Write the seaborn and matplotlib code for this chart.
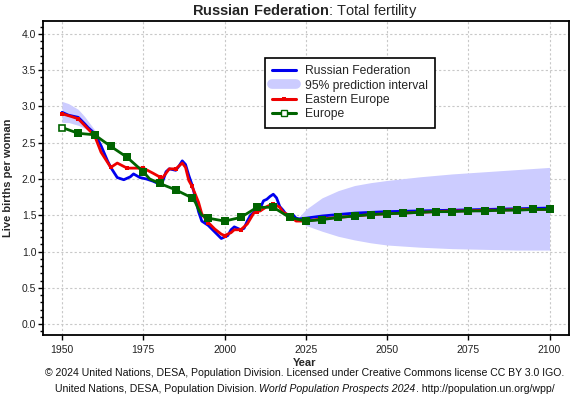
import matplotlib
matplotlib.use("Agg")
import matplotlib.pyplot as plt
from matplotlib.lines import Line2D
from matplotlib.ticker import MultipleLocator, FormatStrFormatter
import pandas as pd
import seaborn as sns

# --- data ---
russia_years = [1950, 1952, 1954, 1955, 1957, 1958, 1960, 1962, 1964, 1965,
                1967, 1969, 1971, 1972, 1974, 1976, 1978, 1980, 1981, 1982,
                1983, 1985, 1986, 1987, 1988, 1989, 1990, 1991, 1992, 1993,
                1995, 1997, 1999, 2000, 2001, 2002, 2003, 2004, 2005, 2006,
                2007, 2008, 2009, 2010, 2011, 2012, 2013, 2014, 2015, 2016,
                2017, 2018, 2019, 2020, 2021, 2022, 2023, 2025, 2030, 2035,
                2040, 2045, 2050, 2060, 2070, 2080, 2090, 2100]
russia_tfr = [2.92, 2.88, 2.86, 2.85, 2.76, 2.71, 2.63, 2.46, 2.25, 2.16,
              2.02, 1.99, 2.03, 2.07, 2.02, 2.00, 1.97, 1.93, 1.97, 2.10,
              2.14, 2.12, 2.18, 2.25, 2.20, 2.05, 1.92, 1.75, 1.55, 1.42,
              1.36, 1.27, 1.18, 1.20, 1.22, 1.30, 1.34, 1.32, 1.30, 1.32,
              1.42, 1.50, 1.54, 1.57, 1.60, 1.70, 1.72, 1.76, 1.79, 1.74,
              1.62, 1.57, 1.51, 1.51, 1.51, 1.46, 1.45, 1.46, 1.49, 1.51,
              1.53, 1.54, 1.55, 1.56, 1.57, 1.58, 1.59, 1.60]

east_years = [1950, 1953, 1955, 1958, 1960, 1962, 1964, 1965, 1967, 1970,
              1972, 1975, 1978, 1980, 1981, 1983, 1985, 1987, 1988, 1989,
              1990, 1992, 1993, 1995, 1997, 1999, 2000, 2002, 2003, 2005,
              2007, 2009, 2010, 2011, 2013, 2015, 2017, 2018, 2020, 2022,
              2025, 2030, 2035, 2040, 2045, 2050, 2055, 2060, 2065, 2070,
              2075, 2080, 2085, 2090, 2095, 2100]
east_tfr = [2.90, 2.86, 2.83, 2.69, 2.60, 2.37, 2.23, 2.16, 2.22, 2.15,
            2.15, 2.15, 2.08, 2.03, 2.02, 2.14, 2.14, 2.22, 2.16, 1.98,
            1.90, 1.68, 1.52, 1.40, 1.31, 1.24, 1.22, 1.26, 1.30, 1.30,
            1.38, 1.53, 1.55, 1.56, 1.62, 1.66, 1.61, 1.54, 1.50, 1.42,
            1.42, 1.45, 1.47, 1.49, 1.51, 1.52, 1.53, 1.54, 1.55, 1.56,
            1.56, 1.57, 1.57, 1.58, 1.58, 1.58]

europe_years = [1950, 1955, 1960, 1965, 1970, 1975, 1977, 1980, 1985, 1990,
                1991, 1992, 1993, 1995, 2000, 2005, 2010, 2015, 2020, 2025,
                2030, 2035, 2040, 2045, 2050, 2055, 2060, 2065, 2070, 2075,
                2080, 2085, 2090, 2095, 2100]
europe_tfr = [2.71, 2.63, 2.61, 2.45, 2.30, 2.10, 2.00, 1.94, 1.85, 1.74,
              1.68, 1.58, 1.50, 1.46, 1.42, 1.47, 1.61, 1.61, 1.47, 1.42,
              1.44, 1.47, 1.49, 1.51, 1.52, 1.53, 1.54, 1.55, 1.55, 1.56,
              1.56, 1.57, 1.57, 1.58, 1.58]

# 95% prediction interval (early estimates + projection)
band_early_years = [1950, 1952, 1955, 1957, 1960, 1962]
band_early_low = [2.78, 2.78, 2.74, 2.70, 2.60, 2.44]
band_early_high = [3.07, 3.04, 2.96, 2.86, 2.68, 2.48]

band_proj_years = [2023, 2025, 2030, 2035, 2040, 2045, 2050, 2060, 2070,
                   2080, 2090, 2100]
band_proj_low = [1.43, 1.36, 1.28, 1.21, 1.16, 1.12, 1.09, 1.06, 1.04,
                 1.03, 1.02, 1.02]
band_proj_high = [1.48, 1.58, 1.74, 1.84, 1.91, 1.95, 1.98, 2.03, 2.07,
                  2.10, 2.13, 2.16]

legend_labels = ["Russian Federation", "95% prediction interval",
                 "Eastern Europe", "Europe"]

BLUE = "#0000EE"
RED = "#EE0000"
GREEN = "#006400"
BAND = "#CCCCFF"

sns.set_theme(style="white")
plt.rcParams["font.family"] = ["Liberation Sans", "DejaVu Sans"]
plt.rcParams["mathtext.fontset"] = "custom"
plt.rcParams["mathtext.rm"] = "Liberation Sans"
plt.rcParams["mathtext.bf"] = "Liberation Sans:bold"

fig = plt.figure(figsize=(5.8, 4.0), dpi=100)
ax = fig.add_axes([0.0747, 0.1625, 0.907, 0.7843])

ax.fill_between(band_early_years, band_early_low, band_early_high,
                color=BAND, lw=0, zorder=1)
ax.fill_between(band_proj_years, band_proj_low, band_proj_high,
                color=BAND, lw=0, zorder=1)

df_ru = pd.DataFrame({"year": russia_years, "tfr": russia_tfr})
df_ee = pd.DataFrame({"year": east_years, "tfr": east_tfr})
df_eu = pd.DataFrame({"year": europe_years, "tfr": europe_tfr})

sns.lineplot(data=df_ru, x="year", y="tfr", color=BLUE, lw=2.0, ax=ax,
             zorder=3)
ee_marks = [i for i, y in enumerate(east_years) if y % 5 == 0]
sns.lineplot(data=df_ee, x="year", y="tfr", color=RED, lw=2.0, ax=ax,
             marker="s", markersize=3, markeredgewidth=0, markevery=ee_marks,
             zorder=4)
eu_marks = [i for i, y in enumerate(europe_years) if y % 5 == 0 and i > 0]
sns.lineplot(data=df_eu, x="year", y="tfr", color=GREEN, lw=2.0, ax=ax,
             marker="s", markersize=5.5, markeredgewidth=0, markevery=eu_marks,
             zorder=5)
ax.plot(europe_years[:1], europe_tfr[:1], "s", ms=4.5, mfc="white",
        mec=GREEN, mew=1.2, zorder=6)

ax.set_xlim(1944.25, 2106.1)
ax.set_ylim(-0.151, 4.175)
ax.xaxis.set_major_locator(MultipleLocator(25))
ax.yaxis.set_major_locator(MultipleLocator(0.5))
ax.yaxis.set_minor_locator(MultipleLocator(0.1))
ax.yaxis.set_major_formatter(FormatStrFormatter("%.1f"))
ax.grid(True, which="major", color="#C8C8C8", linestyle=(0, (2, 2)), lw=0.8)
ax.tick_params(axis="both", which="major", direction="out", length=3.5,
               width=1, color="black", labelsize=7.5, labelcolor="#222222",
               left=True, bottom=True)
ax.tick_params(axis="x", which="major", pad=3.5)
ax.tick_params(axis="y", which="major", pad=1.5)
ax.tick_params(axis="y", which="minor", direction="out", length=2, width=1,
               color="black", left=True)
for side in ax.spines.values():
    side.set_color("black")
    side.set_linewidth(1.3)

ax.set_xlabel("")
ax.set_ylabel("")
fig.text(0.014, 0.555, "Live births per woman", rotation=90, ha="center",
         va="center", fontsize=8, fontweight="bold")

fig.text(0.526, 0.0925, "Year", ha="center", va="center", fontsize=8,
         fontweight="bold")
fig.text(0.526, 0.972, r"$\bf{Russian\ Federation}$: Total fertility",
         ha="center", va="center", fontsize=10.5)
fig.text(0.525, 0.068,
         "\u00a9 2024 United Nations, DESA, Population Division. Licensed "
         "under Creative Commons license CC BY 3.0 IGO.",
         ha="center", va="center", fontsize=7.6, color="#111111")

# second footer line: mixed upright / italic pieces laid side by side
pieces = [("United Nations, DESA, Population Division. ", "normal"),
          ("World Population Prospects 2024", "italic"),
          (". http://population.un.org/wpp/", "normal")]
renderer = fig.canvas.get_renderer()
texts = []
for s, st in pieces:
    t = fig.text(0, 0.028, s, ha="left", va="center", fontsize=7.6,
                 style=st, color="#111111")
    texts.append(t)
widths = [t.get_window_extent(renderer).width for t in texts]
fig_w = fig.get_figwidth() * fig.dpi
x0 = 0.525 * fig_w - sum(widths) / 2
for t, w in zip(texts, widths):
    t.set_x(x0 / fig_w)
    x0 += w

handles = [
    Line2D([], [], color=BLUE, lw=2.2),
    Line2D([], [], color=BAND, lw=7, solid_capstyle="round"),
    Line2D([], [], color=RED, lw=2.2, marker="s", ms=3, mew=0),
    Line2D([], [], color=GREEN, lw=2.2, marker="s", ms=4, mfc="white",
           mec=GREEN, mew=1),
]
leg = ax.legend(handles, legend_labels, loc="upper left",
                bbox_to_anchor=(0.421, 0.883), fontsize=8.7, frameon=True,
                fancybox=False, framealpha=1, edgecolor="black",
                handlelength=2.0, handletextpad=0.7, labelspacing=0.2,
                borderpad=0.6, borderaxespad=0)
leg.get_frame().set_linewidth(1.2)

fig.savefig("out.png", dpi=100)
